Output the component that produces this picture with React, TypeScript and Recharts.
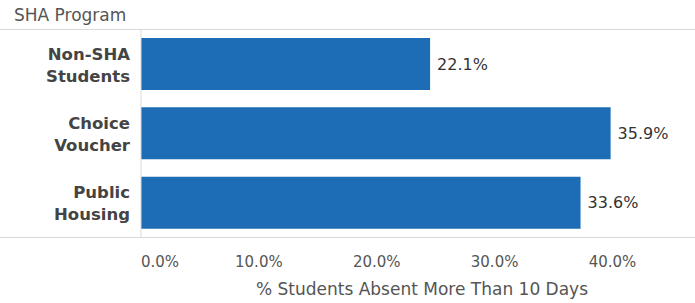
import React from 'react';
import { BarChart, Bar, XAxis, YAxis, LabelList } from 'recharts';

const categories = ['Non-SHA\nStudents', 'Choice\nVoucher', 'Public\nHousing'];
const absentPct = [22.1, 35.9, 33.6];
const axisTicks = [0, 10, 20, 30, 40];

const FONT = '"DejaVu Sans", sans-serif';
const BAR_COLOR = '#1c6db5';
const LINE_COLOR = '#d9d9d9';

const chartData = categories.map((name, i) => ({ name, value: absentPct[i] }));

const CategoryTick = (props: any) => {
  const { x, y, payload } = props;
  const lines = String(payload.value).split('\n');
  return (
    <text x={x} y={y} textAnchor="end" fill="#444" fontFamily={FONT} fontSize={16.5} fontWeight="bold">
      <tspan x={x} dy={-4}>{lines[0]}</tspan>
      <tspan x={x} dy={22}>{lines[1]}</tspan>
    </text>
  );
};

// first label sits right of the axis, like the original
const PctTick = (props: any) => {
  const { x, y, payload, index } = props;
  return (
    <text x={x} y={y} dy="0.71em" textAnchor={index === 0 ? 'start' : 'middle'} fill="#555" fontFamily={FONT} fontSize={15}>
      {`${payload.value.toFixed(1)}%`}
    </text>
  );
};

const App: React.FC = () => {
  return (
    <div style={{ position: 'absolute', left: 0, top: 0, width: 695, height: 303, background: '#fff', fontFamily: FONT }}>
      <div style={{ position: 'absolute', left: 14, top: 5, fontSize: 17, lineHeight: '20px', color: '#555' }}>SHA Program</div>
      <div style={{ position: 'absolute', left: 0, top: 29, width: 695, borderTop: `1px solid ${LINE_COLOR}` }} />
      <div style={{ position: 'absolute', left: 0, top: 237, width: 695, borderTop: `1px solid ${LINE_COLOR}` }} />
      <BarChart
        width={695}
        height={303}
        data={chartData}
        layout="vertical"
        margin={{ top: 29, right: 0, left: 0, bottom: 0 }}
        style={{ position: 'absolute', left: 0, top: 0 }}
      >
        <XAxis xAxisId="bar" type="number" orientation="top" height={0} domain={[0, 42.35]} hide allowDataOverflow />
        <XAxis
          xAxisId="lbl"
          type="number"
          domain={[0, 47]}
          ticks={axisTicks}
          allowDataOverflow
          height={66}
          axisLine={false}
          tickLine={false}
          tickSize={6}
          tickMargin={13}
          tick={<PctTick />}
          label={{ value: '% Students Absent More Than 10 Days', position: 'insideBottom', offset: 8, dx: 4, fill: '#555', fontSize: 17, fontFamily: FONT }}
        />
        <YAxis
          type="category"
          dataKey="name"
          width={141}
          axisLine={{ stroke: LINE_COLOR }}
          tickLine={false}
          tickSize={6}
          tickMargin={5}
          tick={<CategoryTick />}
        />
        <Bar xAxisId="bar" dataKey="value" fill={BAR_COLOR} barSize={52} isAnimationActive={false}>
          <LabelList
            dataKey="value"
            position="right"
            offset={7}
            formatter={(v: any) => `${Number(v).toFixed(1)}%`}
            style={{ fill: '#333', fontSize: 16, fontFamily: FONT }}
          />
        </Bar>
      </BarChart>
    </div>
  );
};

export default App;
